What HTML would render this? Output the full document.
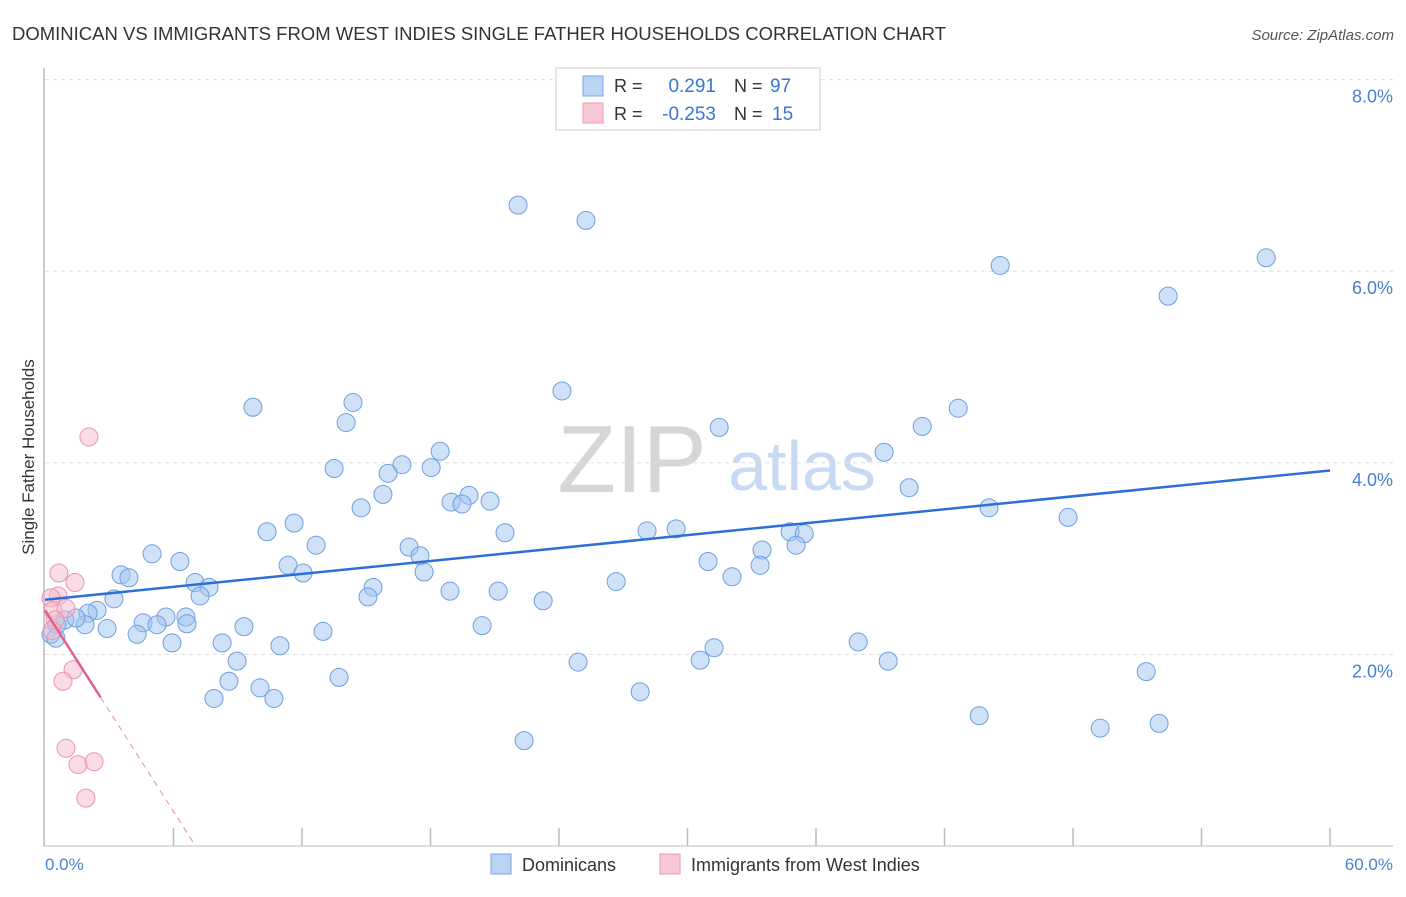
<!DOCTYPE html>
<html><head><meta charset="utf-8"><style>
body{margin:0;background:#fff;font-family:"Liberation Sans",sans-serif}
svg text{font-family:"Liberation Sans",sans-serif}
</style></head><body>
<svg id="chart" width="1406" height="892" xmlns="http://www.w3.org/2000/svg">
<text x="12" y="40" font-size="18.5" fill="#333">DOMINICAN VS IMMIGRANTS FROM WEST INDIES SINGLE FATHER HOUSEHOLDS CORRELATION CHART</text>
<text x="1394" y="40" font-size="15" fill="#555" text-anchor="end" font-style="italic">Source: ZipAtlas.com</text>
<g>
<text x="632" y="492" font-size="96" fill="#d6d6d6" font-family="Liberation Serif" text-anchor="middle">ZIP</text>
<text x="802" y="490" font-size="70" fill="#c8d9f3" text-anchor="middle">atlas</text>
</g>
<g id="grid"></g>
<line x1="44" y1="68" x2="44" y2="846" stroke="#bbb" stroke-width="1.5"/>
<line x1="44" y1="846" x2="1393" y2="846" stroke="#bbb" stroke-width="1"/>
<g id="ticks"></g>
<text transform="translate(34,457) rotate(-90)" font-size="17" fill="#333" text-anchor="middle">Single Father Households</text>
<text x="45" y="870" font-size="17" fill="#4a7fd4">0.0%</text>
<text x="1393" y="870" font-size="17" fill="#4a7fd4" text-anchor="end">60.0%</text>
<g id="pts"></g>
<g id="lines"></g>
<g>
<rect x="556" y="68" width="264" height="62" fill="#fff" stroke="#ccc"/>
<rect x="583" y="76" width="20" height="20" fill="#bcd4f3" stroke="#7aa6e3"/>
<rect x="583" y="103" width="20" height="20" fill="#f8c8d6" stroke="#eb9ab2"/>
<text x="614" y="92" font-size="18" fill="#333">R =</text>
<text x="716" y="92" font-size="19" fill="#3a75d3" text-anchor="end">0.291</text>
<text x="734" y="92" font-size="18" fill="#333">N =</text>
<text x="770" y="92" font-size="19" fill="#3a75d3">97</text>
<text x="614" y="120" font-size="18" fill="#333">R =</text>
<text x="716" y="120" font-size="19" fill="#3a75d3" text-anchor="end">-0.253</text>
<text x="734" y="120" font-size="18" fill="#333">N =</text>
<text x="772" y="120" font-size="19" fill="#3a75d3">15</text>
</g>
<g>
<rect x="491" y="854" width="20" height="20" fill="#bcd4f3" stroke="#7aa6e3"/>
<text x="522" y="871" font-size="18" fill="#333">Dominicans</text>
</g>
<g>
<rect x="660" y="854" width="20" height="20" fill="#f8c8d6" stroke="#eb9ab2"/>
<text x="691" y="871" font-size="18" fill="#333">Immigrants from West Indies</text>
</g>
</svg>
<script>
const blueX=[22.09,25.26,44.60,57.02,52.44,24.14,9.71,14.38,14.06,42.64,40.96,31.48,18.45,39.18,13.50,16.67,16.02,18.03,40.35,15.78,19.80,18.96,19.47,20.78,14.76,44.08,47.77,11.63,10.37,21.48,28.11,29.47,34.79,35.45,12.66,17.00,5.00,17.51,33.48,35.07,6.30,11.35,30.96,3.55,3.92,12.05,17.70,33.39,7.01,7.66,26.67,32.08,15.32,7.24,3.22,18.91,21.16,15.08,23.26,2.43,5.65,6.58,2.01,4.58,5.23,1.87,0.93,0.56,1.45,6.63,9.29,2.90,4.30,12.98,20.41,5.93,8.27,10.97,37.97,0.28,0.51,31.24,8.97,24.89,30.59,39.37,51.42,13.73,8.59,10.04,27.79,7.89,10.69,43.62,49.27,52.02,22.37];
const blueY=[6.69,6.53,6.06,6.14,5.74,4.75,4.58,4.63,4.42,4.57,4.38,4.37,4.12,4.11,3.94,3.98,3.89,3.95,3.74,3.67,3.66,3.59,3.57,3.60,3.53,3.53,3.43,3.37,3.28,3.27,3.29,3.31,3.28,3.26,3.14,3.12,3.05,3.03,3.09,3.14,2.97,2.93,2.97,2.83,2.80,2.85,2.86,2.93,2.75,2.70,2.76,2.81,2.70,2.61,2.58,2.66,2.66,2.60,2.56,2.46,2.39,2.39,2.43,2.33,2.31,2.31,2.36,2.31,2.38,2.32,2.29,2.27,2.21,2.24,2.30,2.12,2.12,2.09,2.13,2.21,2.17,2.07,1.93,1.92,1.94,1.93,1.82,1.76,1.72,1.65,1.61,1.54,1.54,1.36,1.23,1.28,1.10];
const pinkX=[2.05,0.65,1.40,0.61,0.28,0.37,0.98,0.47,1.31,0.84,0.98,1.54,2.29,1.91,0.33];
const pinkY=[4.27,2.85,2.75,2.61,2.59,2.46,2.48,2.36,1.84,1.72,1.02,0.85,0.88,0.50,2.25];
const yTicks=[2,4,6,8];
const yTickLabels=["2.0%","4.0%","6.0%","8.0%"];
const xTicks=[0,6,12,18,24,30,36,42,48,54,60];
const blueTrend=[2.57,3.92];
const pinkTrend=[2.46,-0.35];
const NS="http://www.w3.org/2000/svg";
const sx=v=>45+v/60*1285;
const sy=v=>846-v*95.8;
function mk(tag,attrs,parent){const e=document.createElementNS(NS,tag);for(const k in attrs)e.setAttribute(k,attrs[k]);parent.appendChild(e);return e;}
const grid=document.getElementById('grid'),ticks=document.getElementById('ticks'),pts=document.getElementById('pts'),lines=document.getElementById('lines');
yTicks.forEach((t,i)=>{
 const l=mk('line',{x1:45,x2:1393,y1:sy(t),y2:sy(t),stroke:'#ddd','stroke-dasharray':'4,4'},grid);
 
 
 const tx=mk('text',{x:1393,y:sy(t)+23,'font-size':18,fill:'#4a7fd4','text-anchor':'end'},grid);
 tx.textContent=yTickLabels[i];
 
 
});
xTicks.forEach(t=>{
 if(t===0)return;
 const l=mk('line',{x1:sx(t),x2:sx(t),y1:828,y2:846,stroke:'#bbb','stroke-width':1.5},ticks);
 
 
});
blueX.forEach((x,i)=>{
 const c=mk('circle',{cx:sx(x),cy:sy(blueY[i]),r:9,fill:'rgba(160,195,238,0.5)',stroke:'#6e9fe0','stroke-width':1},pts);
 
 
});
pinkX.forEach((x,i)=>{
 const c=mk('circle',{cx:sx(x),cy:sy(pinkY[i]),r:9,fill:'rgba(246,185,205,0.5)',stroke:'#eb93b0','stroke-width':1},pts);
 
 
});
const bl=mk('line',{x1:sx(0),y1:sy(blueTrend[0]),x2:sx(60),y2:sy(blueTrend[1]),stroke:'#2d6fd6','stroke-width':2.5},lines);


const pEnd=2.6, pZero=-pinkTrend[0]/pinkTrend[1];
const pl=mk('line',{x1:sx(0),y1:sy(pinkTrend[0]),x2:sx(pEnd),y2:sy(pinkTrend[0]+pinkTrend[1]*pEnd),stroke:'#e0608a','stroke-width':2.5},lines);


const pd=mk('line',{x1:sx(pEnd),y1:sy(pinkTrend[0]+pinkTrend[1]*pEnd),x2:sx(pZero),y2:sy(0),stroke:'#e98aa9','stroke-width':1,'stroke-dasharray':'6,5'},lines);


</script>
</body></html>
